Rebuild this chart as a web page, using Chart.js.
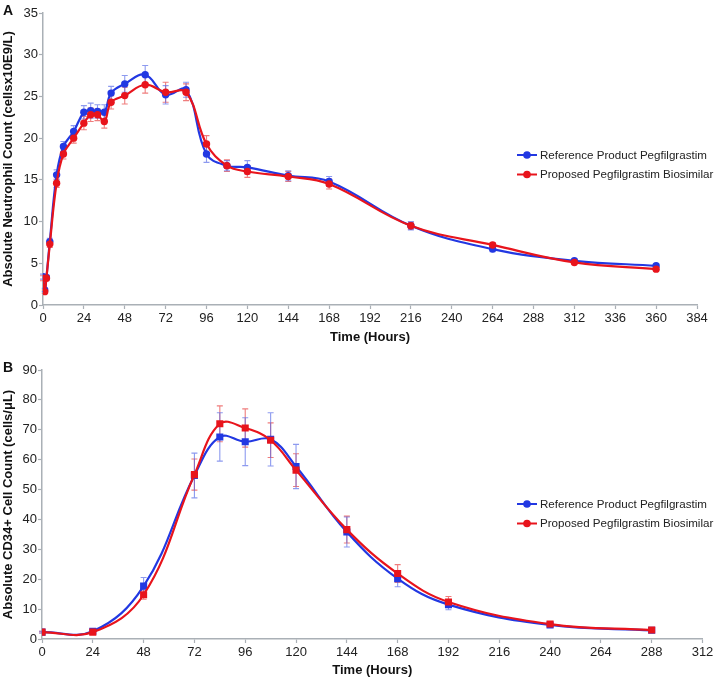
<!DOCTYPE html>
<html>
<head>
<meta charset="utf-8">
<title>Pegfilgrastim PD</title>
<script src="https://cdn.jsdelivr.net/npm/chart.js@4.4.1/dist/chart.umd.min.js"></script>
<style>
  body { margin: 0; background: #fff; }
  #wrap { position: relative; width: 718px; height: 678px; }
  canvas { position: absolute; left: 0; }
  .panel { position: absolute; left: 3px; font: bold 14px 'Liberation Sans', Arial, sans-serif; line-height: 15px; color: #111; }
</style>
</head>
<body>
<div id="wrap">
  <canvas id="chartA" width="718" height="345" style="top:0"></canvas>
  <canvas id="chartB" width="718" height="333" style="top:345px"></canvas>
  <div class="panel" style="top:3px">A</div>
  <div class="panel" style="top:360px">B</div>
</div>

<script>
// ---- panel A: absolute neutrophil count
const timeA   = [0, 1, 2, 4, 8, 12, 18, 24, 28, 32, 36, 40, 48, 60, 72, 84, 96, 108, 120, 144, 168, 216, 264, 312, 360];
const refA    = [3.4, 1.8, 3.3, 7.6, 15.6, 19.0, 20.8, 23.1, 23.3, 23.2, 23.1, 25.4, 26.5, 27.6, 25.2, 25.8, 18.1, 16.7, 16.5, 15.5, 14.8, 9.5, 6.7, 5.3, 4.7];
const refErrA = [0.3, 0.2, 0.3, 0.4, 0.6, 0.6, 0.7, 0.8, 0.9, 0.8, 0.9, 0.8, 1.0, 1.1, 1.1, 0.9, 1.0, 0.6, 0.8, 0.6, 0.6, 0.5, 0.3, 0.2, 0.2];
const bioA    = [3.2, 1.6, 3.2, 7.3, 14.6, 18.1, 20.0, 21.8, 22.8, 22.8, 22.0, 24.3, 25.1, 26.4, 25.5, 25.5, 19.3, 16.7, 16.0, 15.4, 14.5, 9.5, 7.2, 5.1, 4.3];
const bioErrA = [0.3, 0.2, 0.3, 0.4, 0.5, 0.6, 0.6, 0.8, 0.8, 0.7, 0.8, 0.8, 1.0, 1.0, 1.2, 1.0, 1.0, 0.7, 0.7, 0.6, 0.6, 0.4, 0.3, 0.2, 0.2];

// ---- panel B: CD34+ cell count
const timeB   = [0, 24, 48, 72, 84, 96, 108, 120, 144, 168, 192, 240, 288];
const refB    = [2.3, 2.6, 17.7, 54.7, 67.6, 66.0, 66.8, 57.7, 35.8, 20.2, 11.5, 4.7, 2.9];
const refErrB = [0.3, 0.4, 2.9, 7.5, 8.1, 8.0, 8.9, 7.4, 5.0, 2.7, 1.7, 0.6, 0.3];
const bioB    = [2.3, 2.3, 14.8, 55.0, 72.0, 70.6, 66.5, 56.5, 36.6, 21.9, 12.4, 5.0, 3.0];
const bioErrB = [0.3, 0.3, 1.5, 5.2, 6.0, 6.4, 5.8, 5.5, 4.5, 3.0, 1.8, 0.6, 0.3];

const seriesNames = ['Reference Product Pegfilgrastim', 'Proposed Pegfilgrastim Biosimilar'];
const BLUE = '#2238e2', RED = '#e8141c';

Chart.defaults.font.family = "'Liberation Sans', Arial, Helvetica, sans-serif";
Chart.defaults.color = '#222';

function pts(t, v, e) {
  return t.map((x, i) => ({ x: x, y: v[i], err: e[i] }));
}

// vertical error bars with small caps
const errorBars = {
  id: 'errorBars',
  beforeDatasetsDraw(chart) {
    const ctx = chart.ctx, xs = chart.scales.x, ys = chart.scales.y;
    chart.data.datasets.forEach(ds => {
      ctx.save();
      ctx.strokeStyle = ds.errColor;
      ctx.lineWidth = 1.1;
      ds.data.forEach(p => {
        const px = xs.getPixelForValue(p.x);
        const top = ys.getPixelForValue(p.y + p.err);
        const bot = ys.getPixelForValue(p.y - p.err);
        ctx.beginPath();
        ctx.moveTo(px, top); ctx.lineTo(px, bot);
        ctx.moveTo(px - 3, top); ctx.lineTo(px + 3, top);
        ctx.moveTo(px - 3, bot); ctx.lineTo(px + 3, bot);
        ctx.stroke();
      });
      ctx.restore();
    });
  }
};

// legend inside the plot, right side
const insideLegend = {
  id: 'insideLegend',
  afterDraw(chart, args, opts) {
    const ctx = chart.ctx;
    const rows = [chart.data.datasets[1], chart.data.datasets[0]]; // blue first
    ctx.save();
    rows.forEach((ds, i) => {
      const y = opts.y + i * 19.5;
      ctx.strokeStyle = ds.borderColor;
      ctx.lineWidth = 2;
      ctx.beginPath();
      ctx.moveTo(opts.x, y); ctx.lineTo(opts.x + 20, y);
      ctx.stroke();
      ctx.fillStyle = ds.borderColor;
      ctx.beginPath();
      ctx.arc(opts.x + 10, y, 3.8, 0, Math.PI * 2);
      ctx.fill();
      ctx.fillStyle = '#222';
      ctx.font = "11.6px 'Liberation Sans', Arial, sans-serif";
      ctx.textBaseline = 'middle';
      ctx.fillText(ds.label, opts.x + 23, y + 0.5);
    });
    ctx.restore();
  }
};

function axis(min, max, step, title, fitProp, fitVal, titlePad) {
  return {
    type: 'linear', min: min, max: max,
    ticks: { stepSize: step, padding: fitProp === 'width' ? 1 : 2, font: { size: 13 }, color: '#222' },
    grid: { drawOnChartArea: false, drawTicks: true, tickLength: 4, tickColor: '#aab0b6', tickWidth: 1.2 },
    border: { display: true, color: '#aab0b6', width: 1.5 },
    title: { display: true, text: title, font: { size: 13, weight: 'bold' }, color: '#111', padding: titlePad },
    afterFit(s) { s[fitProp] = fitVal; }
  };
}

function makeChart(id, t, r, re, b, be, o) {
  new Chart(document.getElementById(id), {
    type: 'line',
    data: {
      datasets: [
        { label: seriesNames[1], data: pts(t, b, be), borderColor: RED, backgroundColor: RED,
          errColor: 'rgba(232,70,70,0.7)', pointStyle: o.marker, pointRadius: o.radius, order: 0 },
        { label: seriesNames[0], data: pts(t, r, re), borderColor: BLUE, backgroundColor: BLUE,
          errColor: 'rgba(80,100,230,0.65)', pointStyle: o.marker, pointRadius: o.radius, order: 1 }
      ]
    },
    options: {
      responsive: false,
      animation: false,
      events: [],
      layout: { padding: o.padding },
      elements: { line: { borderWidth: 2.2, tension: 0.4 }, point: { borderWidth: 0 } },
      scales: {
        x: axis(0, o.xmax, 24, 'Time (Hours)', 'height', o.xh, { top: 0, bottom: 0 }),
        y: axis(0, o.ymax, o.ystep, o.ytitle, 'width', o.yw, { top: 1, bottom: 0 })
      },
      plugins: {
        legend: { display: false },
        tooltip: { enabled: false },
        insideLegend: { x: 517, y: o.legY }
      }
    },
    plugins: [errorBars, insideLegend]
  });
}

makeChart('chartA', timeA, refA, refErrA, bioA, bioErrA, {
  marker: 'circle', radius: 3.7, xmax: 384, ymax: 35, ystep: 5,
  ytitle: 'Absolute Neutrophil Count (cellsx10E9/L)',
  padding: { top: 13, right: 21, left: 0, bottom: 0 }, xh: 40, yw: 43, legY: 155
});

makeChart('chartB', timeB, refB, refErrB, bioB, bioErrB, {
  marker: 'rect', radius: 5, xmax: 312, ymax: 90, ystep: 10,
  ytitle: 'Absolute CD34+ Cell Count (cells/\u03bcL)',
  padding: { top: 25, right: 15.5, left: 0, bottom: 0 }, xh: 39, yw: 42, legY: 159
});
</script>
</body>
</html>
